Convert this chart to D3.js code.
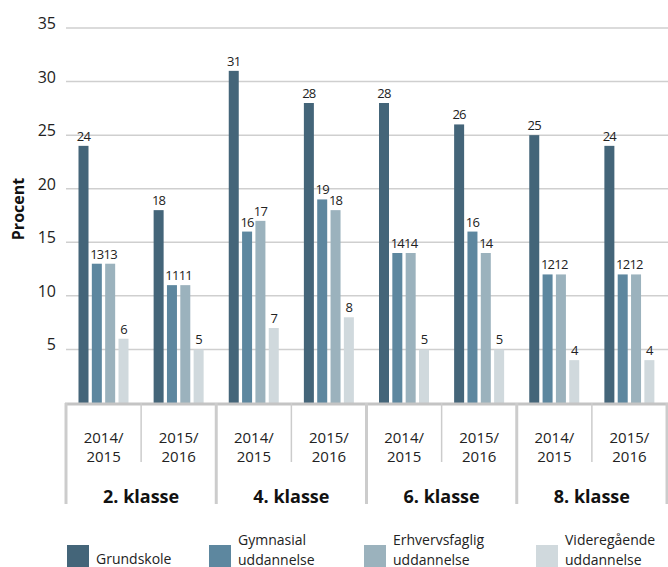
<!DOCTYPE html>
<html>
<head>
<meta charset="utf-8">
<script src="https://cdn.jsdelivr.net/npm/d3@7"></script>
<style>
  body { margin: 0; background: #fff; }
  svg { display: block; font-family: "Open Sans", sans-serif; }
</style>
</head>
<body>
<div id="chart"></div>
<script>
/* CONSTANTS AND GLOBALS */
const width = 668,
  height = 567,
  margin = { top: 28, bottom: 164, left: 66, right: 1 };

/* DATA */
const grades = ["2. klasse", "4. klasse", "6. klasse", "8. klasse"];
const years = ["2014/2015", "2015/2016"];
const series = ["Grundskole", "Gymnasial uddannelse", "Erhvervsfaglig uddannelse", "Videregående uddannelse"];
const colors = ["#446579", "#5d879f", "#9bb2bd", "#d0d9dd"];
// values per series, in order grade x year
const grundskole = [24, 18, 31, 28, 28, 26, 25, 24];
const gymnasial = [13, 11, 16, 19, 14, 16, 12, 12];
const erhverv = [13, 11, 17, 18, 14, 14, 12, 12];
const videre = [6, 5, 7, 8, 5, 5, 4, 4];
const yTicks = [5, 10, 15, 20, 25, 30, 35];

const values = [grundskole, gymnasial, erhverv, videre];
const columns = [];
grades.forEach(g => years.forEach(y => columns.push(g + "|" + y)));

const data = [];
series.forEach((s, i) => {
  columns.forEach((c, j) => {
    data.push({ series: s, col: c, value: values[i][j], color: colors[i] });
  });
});

/* SCALES */
const yScale = d3.scaleLinear()
  .domain([0, 35])
  .range([height - margin.bottom, margin.top]);

const xCol = d3.scaleBand()
  .domain(columns)
  .range([margin.left, width - margin.right]);

const xSeries = d3.scaleBand()
  .domain(series)
  .range([12.5, 62.5])
  .paddingInner(0.25);

const svg = d3.select("#chart")
  .append("svg")
  .attr("width", width)
  .attr("height", height);

const base = yScale(0);

// gridlines
svg.append("g")
  .selectAll("line")
  .data(yTicks)
  .join("line")
  .attr("x1", margin.left)
  .attr("x2", width)
  .attr("y1", d => yScale(d))
  .attr("y2", d => yScale(d))
  .attr("stroke", "#cfcfcf")
  .attr("stroke-width", 1.5);

// y tick labels
svg.append("g")
  .selectAll("text")
  .data(yTicks)
  .join("text")
  .attr("x", 56)
  .attr("y", d => yScale(d) + 1)
  .attr("text-anchor", "end")
  .attr("font-size", 16)
  .attr("fill", "#222")
  .text(d => d);

// y axis title
svg.append("text")
  .attr("transform", `translate(24, 209) rotate(-90)`)
  .attr("text-anchor", "middle")
  .attr("font-size", 16)
  .attr("font-weight", "bold")
  .attr("fill", "#111")
  .text("Procent");

// bars
svg.append("g")
  .selectAll("rect")
  .data(data)
  .join("rect")
  .attr("x", d => xCol(d.col) + xSeries(d.series))
  .attr("width", xSeries.bandwidth())
  .attr("y", d => yScale(d.value))
  .attr("height", d => base - yScale(d.value))
  .attr("fill", d => d.color);

// value labels
svg.append("g")
  .selectAll("text")
  .data(data)
  .join("text")
  .attr("x", d => xCol(d.col) + xSeries(d.series) + xSeries.bandwidth() / 2)
  .attr("y", d => yScale(d.value) - 5)
  .attr("text-anchor", "middle")
  .attr("font-size", 13)
  .attr("letter-spacing", -0.8)
  .attr("fill", "#222")
  .text(d => d.value);

// baseline
svg.append("line")
  .attr("x1", margin.left - 1)
  .attr("x2", width - margin.right + 1)
  .attr("y1", base + 1)
  .attr("y2", base + 1)
  .attr("stroke", "#c4c4c4")
  .attr("stroke-width", 3);

// dividers between columns
const colEdges = columns.map((c, i) => ({ x: xCol(c), major: i % 2 === 0 }));
colEdges.push({ x: width - margin.right, major: true });
svg.append("g")
  .selectAll("line")
  .data(colEdges)
  .join("line")
  .attr("x1", d => d.x)
  .attr("x2", d => d.x)
  .attr("y1", base)
  .attr("y2", d => d.major ? 504 : 462)
  .attr("stroke", "#cccccc")
  .attr("stroke-width", d => d.major ? 3 : 1.5);

// year labels
const yearText = svg.append("g")
  .selectAll("text")
  .data(columns)
  .join("text")
  .attr("text-anchor", "middle")
  .attr("font-size", 15)
  .attr("fill", "#222");
yearText.append("tspan")
  .attr("x", d => xCol(d) + xCol.bandwidth() / 2)
  .attr("y", 443)
  .text(d => d.split("|")[1].split("/")[0] + "/");
yearText.append("tspan")
  .attr("x", d => xCol(d) + xCol.bandwidth() / 2)
  .attr("y", 462)
  .text(d => d.split("|")[1].split("/")[1]);

// grade labels
svg.append("g")
  .selectAll("text")
  .data(grades)
  .join("text")
  .attr("x", d => xCol(d + "|" + years[0]) + xCol.bandwidth())
  .attr("y", 503)
  .attr("text-anchor", "middle")
  .attr("font-size", 18)
  .attr("font-weight", "bold")
  .attr("fill", "#111")
  .text(d => d);

// legend
const legendX = [67, 209, 364, 536];
const legend = svg.append("g")
  .selectAll("g")
  .data(series)
  .join("g")
  .attr("transform", (d, i) => `translate(${legendX[i]}, 545)`);
legend.append("rect")
  .attr("width", 22)
  .attr("height", 22)
  .attr("fill", (d, i) => colors[i]);
const legendText = legend.append("text")
  .attr("font-size", 14)
  .attr("fill", "#222");
legendText.each(function (d) {
  const parts = d.split(" ");
  const t = d3.select(this);
  if (parts.length === 1) {
    t.append("tspan").attr("x", 29).attr("y", 19).text(parts[0]);
  } else {
    t.append("tspan").attr("x", 29).attr("y", 0).text(parts[0]);
    t.append("tspan").attr("x", 29).attr("y", 19.5).text(parts[1]);
  }
});
</script>
</body>
</html>
